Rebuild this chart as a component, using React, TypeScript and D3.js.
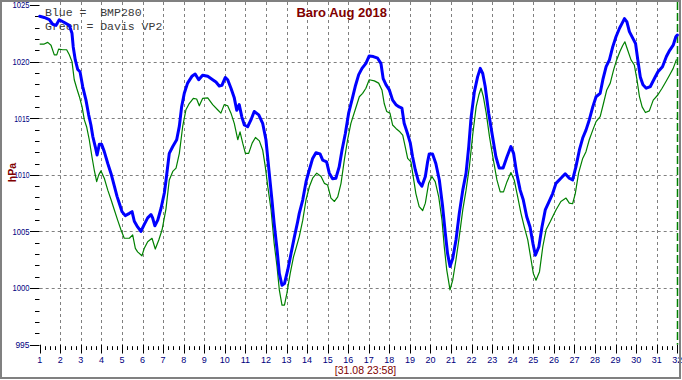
import React from "react";
import * as d3 from "d3";

const blueDays = [1.0,1.22,1.47,1.63,1.79,1.95,2.2,2.44,2.57,2.63,2.73,2.85,2.96,3.09,3.25,3.38,3.49,3.58,3.7,3.79,3.9,4.01,4.14,4.31,4.47,4.63,4.76,4.87,5.0,5.16,5.36,5.49,5.6,5.76,5.92,6.08,6.25,6.41,6.49,6.6,6.74,6.9,7.06,7.14,7.3,7.47,7.66,7.79,7.9,8.03,8.19,8.4,8.56,8.73,8.92,9.17,9.41,9.57,9.73,9.86,10.02,10.14,10.3,10.46,10.58,10.7,10.83,10.95,11.11,11.27,11.43,11.65,11.84,12.0,12.16,12.29,12.4,12.54,12.65,12.78,12.9,13.06,13.22,13.38,13.54,13.62,13.79,13.95,14.11,14.27,14.43,14.63,14.76,14.95,15.08,15.24,15.4,15.56,15.7,15.86,16.02,16.18,16.34,16.51,16.67,16.86,17.02,17.22,17.43,17.59,17.7,17.84,18.0,18.16,18.32,18.48,18.61,18.72,18.89,19.02,19.13,19.26,19.42,19.58,19.75,19.86,19.94,20.1,20.26,20.43,20.59,20.72,20.83,20.95,21.08,21.24,21.4,21.57,21.73,21.86,21.97,22.13,22.29,22.42,22.54,22.66,22.83,23.02,23.18,23.34,23.53,23.72,23.91,24.04,24.19,24.36,24.51,24.68,24.84,24.98,25.1,25.27,25.42,25.58,25.77,25.94,26.1,26.34,26.55,26.75,26.91,27.07,27.24,27.4,27.56,27.72,27.89,28.05,28.25,28.38,28.54,28.7,28.86,29.02,29.19,29.32,29.43,29.55,29.67,29.84,29.97,30.08,30.2,30.33,30.49,30.69,30.9,31.06,31.28,31.47,31.63,31.8,31.93,32.0];
const blueValues = [1024.0,1023.9,1023.7,1023.3,1023.2,1023.7,1023.45,1023.2,1022.5,1021.3,1020.15,1019.3,1019.1,1017.8,1016.6,1015.3,1014.4,1013.4,1012.5,1011.75,1012.7,1012.7,1012.05,1011.0,1010.1,1009.0,1008.1,1007.5,1006.75,1006.4,1006.6,1006.75,1005.9,1005.4,1005.0,1005.6,1006.2,1006.5,1006.2,1005.5,1006.0,1007.05,1008.4,1009.5,1011.9,1012.5,1013.1,1014.3,1016.0,1017.2,1018.1,1018.7,1018.9,1018.4,1018.8,1018.7,1018.4,1018.2,1017.85,1017.9,1018.6,1018.4,1017.65,1016.8,1015.7,1016.2,1015.1,1014.4,1014.25,1014.85,1015.6,1015.3,1014.55,1013.1,1010.15,1007.8,1005.7,1003.4,1001.3,1000.25,1000.4,1001.6,1003.05,1004.5,1005.85,1006.6,1007.8,1009.4,1010.45,1011.45,1011.95,1011.85,1011.3,1011.15,1010.15,1009.65,1009.7,1010.7,1012.2,1013.65,1015.45,1016.6,1017.8,1018.85,1019.4,1019.85,1020.5,1020.45,1020.3,1019.85,1018.5,1017.95,1017.5,1016.6,1016.2,1016.0,1015.9,1014.55,1013.6,1012.8,1011.6,1010.45,1009.4,1009.0,1009.85,1011.15,1011.85,1011.85,1011.0,1009.55,1007.2,1004.85,1003.05,1001.9,1002.6,1004.25,1006.6,1008.65,1010.15,1012.5,1015.0,1017.3,1018.65,1019.4,1018.95,1017.8,1015.45,1013.35,1011.6,1010.6,1010.6,1011.6,1012.5,1011.9,1010.15,1008.65,1007.8,1006.3,1005.4,1003.95,1002.9,1003.65,1005.4,1006.9,1007.65,1008.35,1009.25,1009.7,1010.1,1009.7,1009.55,1010.7,1012.2,1013.25,1013.95,1014.85,1016.0,1016.9,1017.2,1018.4,1019.55,1020.15,1021.3,1022.2,1022.95,1023.4,1023.8,1023.5,1022.65,1022.05,1021.6,1020.15,1018.65,1017.95,1017.65,1017.8,1018.55,1019.1,1019.55,1020.45,1021.0,1021.45,1022.2,1022.35];

const greenDays = [1.0,1.22,1.39,1.55,1.71,1.83,1.92,2.12,2.31,2.44,2.57,2.68,2.8,2.93,3.06,3.17,3.28,3.41,3.54,3.65,3.77,3.87,3.98,4.14,4.31,4.47,4.63,4.79,4.95,5.11,5.36,5.52,5.65,5.76,5.97,6.08,6.25,6.46,6.62,6.79,6.95,7.14,7.3,7.47,7.63,7.79,7.95,8.11,8.27,8.47,8.63,8.76,8.92,9.17,9.41,9.65,9.81,9.97,10.14,10.3,10.46,10.63,10.74,10.87,11.0,11.16,11.33,11.49,11.68,11.84,11.97,12.09,12.25,12.4,12.54,12.65,12.78,12.9,13.02,13.18,13.34,13.46,13.62,13.79,13.95,14.11,14.27,14.47,14.68,14.84,15.0,15.16,15.33,15.49,15.65,15.81,15.97,16.13,16.34,16.54,16.7,16.86,17.02,17.27,17.48,17.64,17.75,17.87,18.03,18.16,18.32,18.51,18.65,18.77,18.89,19.05,19.16,19.29,19.45,19.62,19.75,19.91,20.07,20.23,20.4,20.56,20.67,20.79,20.95,21.08,21.24,21.4,21.57,21.73,21.89,22.06,22.22,22.35,22.46,22.57,22.71,22.87,23.03,23.23,23.39,23.55,23.72,23.91,24.07,24.24,24.4,24.56,24.73,24.89,25.0,25.13,25.3,25.46,25.62,25.82,25.98,26.1,26.34,26.59,26.75,26.91,27.04,27.2,27.4,27.56,27.72,27.89,28.05,28.25,28.41,28.57,28.74,28.9,29.05,29.21,29.34,29.45,29.59,29.75,29.91,30.04,30.16,30.29,30.45,30.64,30.83,31.05,31.26,31.45,31.62,31.8,31.96];
const greenValues = [1021.55,1021.55,1021.7,1021.45,1020.6,1020.6,1021.1,1021.05,1021.05,1020.6,1020.0,1018.4,1017.65,1016.9,1016.0,1014.85,1014.25,1013.1,1011.6,1010.45,1009.4,1010.0,1010.35,1009.7,1008.65,1007.8,1006.9,1006.0,1005.15,1004.4,1004.4,1004.7,1003.5,1003.2,1002.85,1003.5,1004.1,1004.4,1003.45,1004.25,1005.15,1007.0,1009.55,1010.3,1010.6,1011.9,1014.25,1015.75,1016.3,1016.75,1016.7,1016.1,1016.75,1016.8,1016.2,1015.75,1015.45,1016.2,1016.1,1015.45,1014.55,1013.1,1013.8,1012.8,1011.9,1011.9,1012.8,1013.3,1013.0,1012.2,1010.7,1008.95,1006.9,1003.95,1001.9,999.85,998.5,998.5,999.55,1001.3,1002.75,1003.5,1004.55,1006.0,1007.8,1008.95,1009.7,1010.15,1009.85,1009.25,1009.1,1007.95,1007.65,1008.05,1009.25,1011.3,1013.1,1014.55,1015.75,1016.9,1017.2,1017.65,1018.4,1018.3,1018.1,1017.5,1016.3,1015.6,1015.45,1014.4,1014.1,1013.8,1013.5,1012.5,1011.45,1011.15,1009.85,1008.35,1007.2,1006.85,1007.5,1009.25,1009.85,1009.4,1008.05,1006.0,1003.65,1001.6,999.85,1000.7,1002.5,1004.55,1006.9,1008.65,1010.7,1013.65,1016.0,1017.05,1017.65,1016.9,1015.45,1013.35,1011.6,1009.55,1008.5,1008.5,1009.4,1010.2,1009.55,1008.05,1006.6,1005.4,1004.25,1002.5,1001.3,1000.7,1001.45,1003.65,1005.15,1005.85,1006.45,1006.9,1007.65,1007.95,1007.5,1007.45,1008.35,1010.15,1011.45,1012.05,1013.1,1013.95,1014.7,1015.15,1016.3,1017.5,1018.1,1019.25,1020.15,1020.9,1021.4,1021.75,1021.0,1020.15,1019.7,1018.4,1016.9,1016.0,1015.5,1015.65,1016.6,1017.05,1017.65,1018.25,1018.8,1019.4,1020.2];

const dayTicks = d3.range(1, 33);
const gridDays = d3.range(2, 32);
const minorDayTicks = d3.range(1, 32.001, 0.25);
const pressureTicks = [995, 1000, 1005, 1010, 1015, 1020, 1025];
const gridPressures = [1000, 1005, 1010, 1015, 1020];
const minorPressureTicks = d3.range(995, 1026, 1);
const titleText = "Baro Aug 2018";
const yAxisTitle = "hPa";
const timeStamp = "[31.08 23:58]";
const legendLines = ["Blue =  BMP280", "Green = Davis VP2"];
const currentDay = 32;

// narrow bitmap-like label widths ("1" is narrow in the source font)
function labelWidth(s: string, digit: number, one: number) {
  let w = 0;
  for (const c of s) w += c === "1" ? one : digit;
  return w;
}

export default function App() {
  const W = 682, H = 380;
  const x = d3.scaleLinear().domain([1, 32]).range([39.7, 677.3]);
  const y = d3.scaleLinear().domain([995, 1025]).range([344.7, 5]);
  const plotTop = 2;
  const plotBottom = y(995);

  const bluePath = d3.line<number>()
    .x((_, i) => x(blueDays[i]))
    .y((d) => y(d))
    .curve(d3.curveLinear)(blueValues) || "";
  const greenPath = d3.line<number>()
    .x((_, i) => x(greenDays[i]))
    .y((d) => y(d))
    .curve(d3.curveLinear)(greenValues) || "";

  const font = "'Liberation Sans', Arial, sans-serif";
  const navy = "#000080";
  const maroon = "#800000";

  return (
    <svg width={W} height={H} style={{ position: "absolute", left: 0, top: 0, background: "#fff" }}>
      <rect x={0} y={0} width={W} height={H} fill="#fff" />
      {/* grid */}
      {gridDays.map((d) => (
        <line key={"gv" + d} x1={Math.round(x(d)) + 0.5} x2={Math.round(x(d)) + 0.5} y1={plotTop} y2={plotBottom}
          stroke="#808080" strokeWidth={1} strokeDasharray="3,3" />
      ))}
      {gridPressures.map((p) => (
        <line key={"gh" + p} x1={x(1)} x2={x(32)} y1={Math.round(y(p)) + 0.5} y2={Math.round(y(p)) + 0.5}
          stroke="#808080" strokeWidth={1} strokeDasharray="3,3" />
      ))}
      {/* y ticks */}
      {minorPressureTicks.map((p) => (
        <line key={"ym" + p} x1={pressureTicks.includes(p) ? 30 : 35} x2={39.5}
          y1={Math.round(y(p)) + 0.5} y2={Math.round(y(p)) + 0.5} stroke="#000" strokeWidth={1} />
      ))}
      {pressureTicks.map((p) => (
        <text key={"yl" + p} x={29.5} y={y(p)} dy="0.35em" textAnchor="end" fontFamily={font} fontSize={9.5} fill={navy}
          textLength={labelWidth(String(p), 4.7, 2.9)} lengthAdjust="spacingAndGlyphs">
          {p}
        </text>
      ))}
      {/* x ticks */}
      {minorDayTicks.map((d) => {
        const major = Math.abs(d - Math.round(d)) < 1e-6;
        const xx = Math.round(x(d)) + 0.5;
        return (
          <line key={"xm" + d} x1={xx} x2={xx} y1={major ? plotBottom : plotBottom + 1.5} y2={major ? 353.5 : 350}
            stroke="#000" strokeWidth={1} />
        );
      })}
      {dayTicks.map((d) => (
        <text key={"xl" + d} x={x(d)} y={362.5} textAnchor="middle" fontFamily={font} fontSize={9} fill={navy}>
          {d}
        </text>
      ))}
      {/* titles */}
      <text x={341.7} y={16.7} textAnchor="middle" fontFamily={font} fontSize={13} fontWeight="bold" fill={maroon}>
        {titleText}
      </text>
      <text transform={`translate(15.5,172.5) rotate(-90)`} textAnchor="middle" fontFamily={font} fontSize={10.5}
        fontWeight="bold" fill={maroon}>
        {yAxisTitle}
      </text>
      <text x={365.5} y={374} textAnchor="middle" fontFamily={font} fontSize={10.5} fill={maroon}>
        {timeStamp}
      </text>
      {legendLines.map((t, i) => (
        <text key={"lg" + i} x={45} y={16.3 + i * 13.2} fontFamily="'Liberation Mono', 'Courier New', monospace"
          fontSize={11.5} fill="#3a3a3a" style={{ whiteSpace: "pre" }} xmlSpace="preserve">
          {t}
        </text>
      ))}
      {/* current time marker */}
      <line x1={Math.round(x(currentDay)) + 0.5} x2={Math.round(x(currentDay)) + 0.5} y1={plotTop} y2={plotBottom}
        stroke="#008000" strokeWidth={1.5} strokeDasharray="8,3" />
      {/* series */}
      <path d={greenPath} fill="none" stroke="#008000" strokeWidth={1.2} strokeLinejoin="round" />
      <path d={bluePath} fill="none" stroke="#0000ff" strokeWidth={3} strokeLinejoin="round" strokeLinecap="round" />
      {/* frame */}
      <rect x={1} y={1} width={W - 3} height={H - 3} fill="none" stroke="#808080" strokeWidth={2} />
    </svg>
  );
}
